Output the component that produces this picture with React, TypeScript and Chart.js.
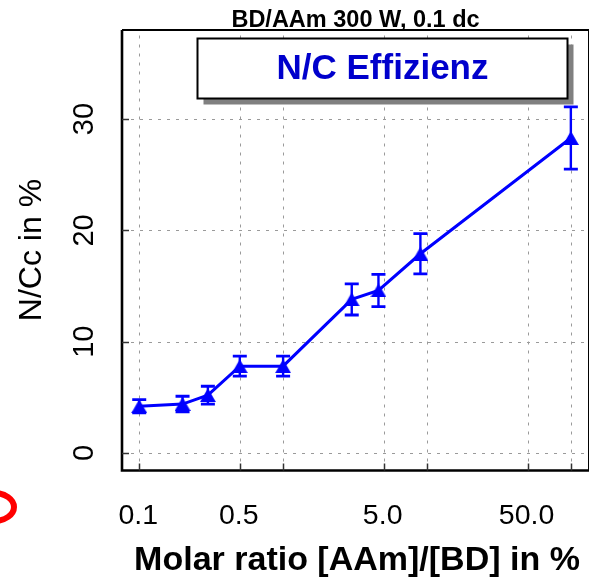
import React, { useEffect, useRef } from "react";
import { Chart, registerables } from "chart.js";

Chart.register(...registerables);

// ---- data ----
const xValues = [0.1, 0.2, 0.3, 0.5, 1, 3, 4.6, 9, 100];
const yValues = [4.2, 4.4, 5.2, 7.8, 7.8, 13.8, 14.6, 17.9, 28.3];
const yErrors = [0.6, 0.7, 0.8, 0.9, 0.9, 1.4, 1.45, 1.8, 2.8];

const xTickValues = [0.1, 0.5, 1, 5, 10, 50, 100];
const xTickLabels = ["0.1", "0.5", "", "5.0", "", "50.0", ""];
const yTickValues = [0, 10, 20, 30];
const yTickLabels = ["0", "10", "20", "30"];

const titleText = "BD/AAm 300 W, 0.1 dc";
const seriesLabel = "N/C Effizienz";
const xTitle = "Molar ratio [AAm]/[BD] in %";
const yTitle = "N/Cc in %";

const X_MIN = 0.0759;
const X_MAX = 133.7;
const Y_MIN = -1.57;
const Y_MAX = 38.0;

const FONT = "'Liberation Sans', Arial, Helvetica, sans-serif";
const BLUE = "#0000ff";

export default function App() {
  const ref = useRef<HTMLCanvasElement>(null);

  useEffect(() => {
    const canvas = ref.current!;
    // triangle marker (bbox-centred like the reference)
    const tri = document.createElement("canvas");
    tri.width = 16;
    tri.height = 14;
    const tctx = tri.getContext("2d")!;
    tctx.fillStyle = BLUE;
    tctx.beginPath();
    tctx.moveTo(8, 0);
    tctx.lineTo(16, 14);
    tctx.lineTo(0, 14);
    tctx.closePath();
    tctx.fill();

    const decor = {
      id: "decor",
      beforeDatasetsDraw(chart: any) {
        const { ctx, chartArea: a, scales } = chart;
        const x = scales.x;
        const y = scales.y;
        ctx.save();
        // grid
        ctx.strokeStyle = "#9a9a9a";
        ctx.lineWidth = 1;
        ctx.setLineDash([3, 6]);
        for (const v of xTickValues) {
          const px = Math.round(x.getPixelForValue(v)) + 0.5;
          ctx.beginPath();
          ctx.moveTo(px, a.bottom);
          ctx.lineTo(px, a.top);
          ctx.stroke();
        }
        for (const v of yTickValues) {
          const py = Math.round(y.getPixelForValue(v)) + 0.5;
          ctx.beginPath();
          ctx.moveTo(a.left, py);
          ctx.lineTo(a.right, py);
          ctx.stroke();
        }
        ctx.setLineDash([]);
        // error bars
        ctx.strokeStyle = BLUE;
        for (let i = 0; i < xValues.length; i++) {
          const px = x.getPixelForValue(xValues[i]);
          const pt = y.getPixelForValue(yValues[i] + yErrors[i]);
          const pb = y.getPixelForValue(yValues[i] - yErrors[i]);
          ctx.lineWidth = 2.4;
          ctx.beginPath();
          ctx.moveTo(px, pt);
          ctx.lineTo(px, pb);
          ctx.stroke();
          ctx.lineWidth = 2.8;
          ctx.beginPath();
          ctx.moveTo(px - 7, pt);
          ctx.lineTo(px + 7, pt);
          ctx.moveTo(px - 7, pb);
          ctx.lineTo(px + 7, pb);
          ctx.stroke();
        }
        ctx.restore();
      },
      afterDraw(chart: any) {
        const { ctx, chartArea: a, scales } = chart;
        const x = scales.x;
        const y = scales.y;
        ctx.save();

        // title (clipped by the frame)
        ctx.save();
        ctx.beginPath();
        ctx.rect(0, 0, chart.width, a.top - 1);
        ctx.clip();
        ctx.fillStyle = "#000";
        ctx.font = `bold 23.5px ${FONT}`;
        ctx.textAlign = "center";
        ctx.textBaseline = "alphabetic";
        ctx.fillText(titleText, (a.left + a.right) / 2, 27);
        ctx.restore();

        // frame
        ctx.strokeStyle = "#000";
        ctx.lineWidth = 2.6;
        ctx.beginPath();
        ctx.moveTo(a.left, a.top);
        ctx.lineTo(a.left, a.bottom);
        ctx.lineTo(a.right, a.bottom);
        ctx.stroke();
        ctx.lineWidth = 2;
        ctx.beginPath();
        ctx.moveTo(a.left, a.top);
        ctx.lineTo(a.right, a.top);
        ctx.lineTo(a.right, a.bottom);
        ctx.stroke();

        // inward ticks
        ctx.strokeStyle = "#333";
        ctx.lineWidth = 1.5;
        for (const v of xTickValues) {
          const px = Math.round(x.getPixelForValue(v)) + 0.5;
          ctx.beginPath();
          ctx.moveTo(px, a.bottom);
          ctx.lineTo(px, a.bottom - 7);
          ctx.stroke();
        }
        for (const v of yTickValues) {
          const py = Math.round(y.getPixelForValue(v)) + 0.5;
          ctx.beginPath();
          ctx.moveTo(a.left, py);
          ctx.lineTo(a.left + 7, py);
          ctx.stroke();
        }

        // x tick labels
        ctx.fillStyle = "#000";
        ctx.font = `28.5px ${FONT}`;
        ctx.textAlign = "center";
        ctx.textBaseline = "alphabetic";
        xTickValues.forEach((v, i) => {
          if (!xTickLabels[i]) return;
          ctx.fillText(xTickLabels[i], x.getPixelForValue(v) - 1, a.bottom + 53);
        });

        // y tick labels (rotated)
        ctx.font = `29px ${FONT}`;
        yTickValues.forEach((v, i) => {
          ctx.save();
          ctx.translate(a.left - 29, y.getPixelForValue(v));
          ctx.rotate(-Math.PI / 2);
          ctx.fillText(yTickLabels[i], 0, 0);
          ctx.restore();
        });

        // y title
        ctx.save();
        ctx.font = `32px ${FONT}`;
        ctx.translate(40.5, 250);
        ctx.rotate(-Math.PI / 2);
        ctx.fillText(yTitle, 0, 0);
        ctx.restore();

        // x title
        ctx.font = `bold 34px ${FONT}`;
        ctx.fillText(xTitle, (a.left + a.right) / 2 + 1.5, 570);

        // legend box
        const bx = 197.5, by = 38.5, bw = 370, bh = 60;
        ctx.fillStyle = "#808080";
        ctx.fillRect(bx + 6, by + 6, bw, bh);
        ctx.fillStyle = "#fff";
        ctx.fillRect(bx, by, bw, bh);
        ctx.strokeStyle = "#000";
        ctx.lineWidth = 2;
        ctx.strokeRect(bx, by, bw, bh);
        ctx.fillStyle = "#0000cc";
        ctx.font = `bold 35px ${FONT}`;
        ctx.fillText(seriesLabel, bx + bw / 2, 79);

        // red partial ellipse at the far left (only its right side is in view)
        ctx.strokeStyle = "#ff0000";
        ctx.lineWidth = 6;
        ctx.beginPath();
        ctx.ellipse(-6, 507, 20, 14, 0, -Math.PI / 2, Math.PI / 2);
        ctx.stroke();

        ctx.restore();
      },
    };

    const chart = new Chart(canvas, {
      type: "line",
      data: {
        datasets: [
          {
            label: seriesLabel,
            data: xValues.map((v, i) => ({ x: v, y: yValues[i] })),
            borderColor: BLUE,
            backgroundColor: BLUE,
            borderWidth: 3,
            pointStyle: tri as any,
            pointRadius: 8,
            tension: 0,
            fill: false,
          },
        ],
      },
      options: {
        responsive: false,
        animation: false,
        devicePixelRatio: 1,
        events: [],
        layout: { padding: { left: 122, top: 30, right: 9, bottom: 106.5 } },
        scales: {
          x: { type: "logarithmic", min: X_MIN, max: X_MAX, display: false },
          y: { type: "linear", min: Y_MIN, max: Y_MAX, display: false },
        },
        plugins: {
          legend: { display: false },
          title: { display: false },
          tooltip: { enabled: false },
        },
      },
      plugins: [decor],
    } as any);

    return () => chart.destroy();
  }, []);

  return (
    <div
      style={{
        position: "absolute",
        left: 0,
        top: 0,
        width: 589,
        height: 577,
        overflow: "hidden",
        background: "#fff",
      }}
    >
      <canvas ref={ref} width={600} height={577} style={{ display: "block", width: 600, height: 577 }} />
    </div>
  );
}
